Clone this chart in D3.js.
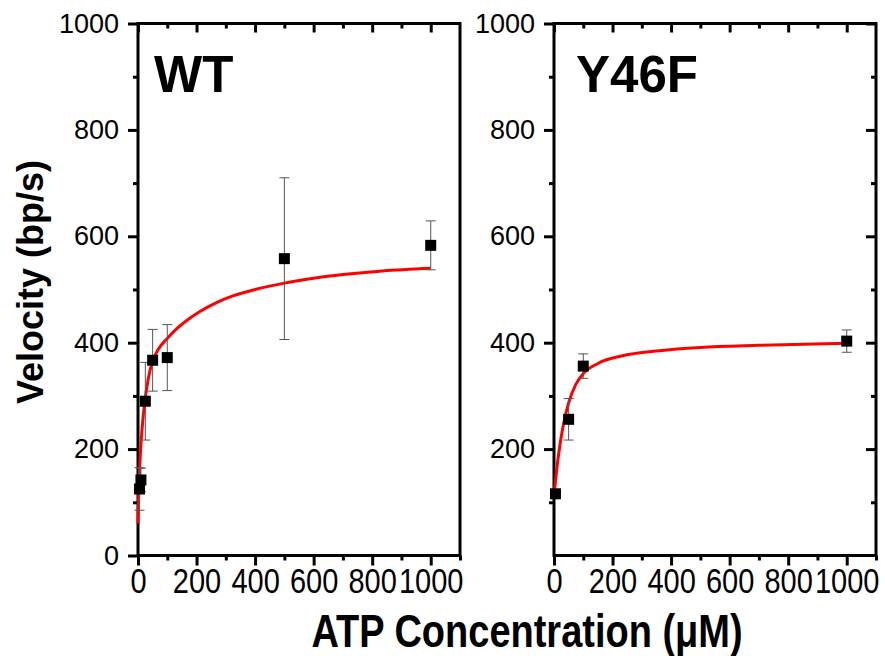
<!DOCTYPE html>
<html>
<head>
<meta charset="utf-8">
<script src="https://cdn.jsdelivr.net/npm/d3@7/dist/d3.min.js"></script>
<style>
  html, body { margin: 0; padding: 0; background: #fff; }
  svg { display: block; font-family: "Liberation Sans", Arial, sans-serif; }
  .axis path, .axis line { stroke: #000; stroke-width: 3; }
  .axis text { font-family: "Liberation Sans", Arial, sans-serif; font-size: 27px; fill: #000; }
</style>
</head>
<body>
<svg id="chart" width="885" height="656"></svg>
<script>
// ticks
const xTickVals = [0, 200, 400, 600, 800, 1000];
const xMinorVals = [100, 300, 500, 700, 900, 1100];
const yTickWT = [0, 200, 400, 600, 800, 1000];
const yTickY46F = [200, 400, 600, 800, 1000];
const yMinorVals = [100, 300, 500, 700, 900];

// WT data (ATP uM, velocity bp/s, error)
const wtConc = [5, 10, 25, 50, 100, 500, 1000];
const wtVel = [125, 142, 290, 367, 372, 558, 583];
const wtErr = [40, 22, 73, 58, 62, 152, 46];
// WT fitted curve
const wtFitConc = [0, 3, 8, 15, 23, 35, 48, 70, 100, 130, 170, 210, 270, 324, 400, 500, 600, 700, 835, 1000];
const wtFitVel = [60, 125, 190, 245, 288, 332, 362, 388, 408, 425, 443, 458, 476, 488, 500, 512, 521, 528, 535, 540];

// Y46F data
const mutConc = [5, 50, 100, 1000];
const mutVel = [116, 256, 356, 403];
const mutErr = [4, 39, 23, 21];
const mutFitConc = [0, 5, 10, 17, 25, 34, 50, 75, 100, 150, 230, 360, 500, 700, 1000];
const mutFitVel = [111, 140, 165, 195, 224, 251, 287, 322, 342, 361, 375, 385, 391, 395, 399];

const svg = d3.select('#chart');
const TOP = 23.5, BOTTOM = 555.5;

function drawPanel(opt) {
  const x = d3.scaleLinear().domain([0, 1100]).range([opt.x0, opt.x1]);
  const y = d3.scaleLinear().domain([0, 1000]).range([BOTTOM, TOP]);
  const g = svg.append('g');

  // frame
  g.append('rect').attr('x', opt.x0).attr('y', TOP)
    .attr('width', opt.x1 - opt.x0).attr('height', BOTTOM - TOP)
    .attr('fill', 'none').attr('stroke', '#000').attr('stroke-width', 3);

  // bottom axis (outward), major + minor
  const bx = g.append('g').attr('class', 'axis').attr('transform', `translate(0,${BOTTOM})`)
    .call(d3.axisBottom(x).tickValues(xTickVals).tickSize(10).tickSizeOuter(0).tickFormat(d3.format('d')));
  bx.select('.domain').remove();
  bx.selectAll('text')
    .attr('y', 10.5).attr('dy', '0.71em')
    .style('font-size', '29px')
    .attr('transform', 'scale(1,1.21)');
  g.append('g').attr('class', 'axis').attr('transform', `translate(0,${BOTTOM})`)
    .call(d3.axisBottom(x).tickValues(xMinorVals).tickSize(5).tickFormat(''))
    .select('.domain').remove();

  // top ticks (inward)
  g.append('g').attr('class', 'axis').attr('transform', `translate(0,${TOP})`)
    .call(d3.axisBottom(x).tickValues(xTickVals).tickSize(9).tickFormat(''))
    .select('.domain').remove();
  g.append('g').attr('class', 'axis').attr('transform', `translate(0,${TOP})`)
    .call(d3.axisBottom(x).tickValues(xMinorVals.slice(0, 5)).tickSize(5).tickFormat(''))
    .select('.domain').remove();

  // left axis (outward)
  const ly = g.append('g').attr('class', 'axis').attr('transform', `translate(${opt.x0},0)`)
    .call(d3.axisLeft(y).tickValues(opt.yTicks).tickSize(10).tickPadding(9).tickFormat(d3.format('d')));
  ly.select('.domain').remove();
  g.append('g').attr('class', 'axis').attr('transform', `translate(${opt.x0},0)`)
    .call(d3.axisLeft(y).tickValues(yMinorVals).tickSize(5).tickFormat(''))
    .select('.domain').remove();

  if (opt.rightTicks) {
    g.append('g').attr('class', 'axis').attr('transform', `translate(${opt.x1},0)`)
      .call(d3.axisRight(y).tickValues(opt.yTicks).tickSize(-10).tickFormat(''))
      .select('.domain').remove();
    g.append('g').attr('class', 'axis').attr('transform', `translate(${opt.x1},0)`)
      .call(d3.axisRight(y).tickValues(yMinorVals).tickSize(-5).tickFormat(''))
      .select('.domain').remove();
  }

  // fit curve
  const fit = d3.zip(opt.fitX, opt.fitY);
  g.append('path').datum(fit)
    .attr('fill', 'none').attr('stroke', '#ff0000').attr('stroke-width', 3)
    .attr('d', d3.line().x(d => x(d[0])).y(d => y(d[1])).curve(d3.curveMonotoneX));

  // error bars
  const pts = opt.conc.map((c, i) => ({ c, v: opt.vel[i], e: opt.err[i] }));
  const eb = g.append('g').attr('stroke', '#555').attr('stroke-width', 1);
  pts.forEach(p => {
    const cx = x(p.c);
    eb.append('line').attr('x1', cx).attr('x2', cx).attr('y1', y(p.v - p.e)).attr('y2', y(p.v + p.e));
    [p.v - p.e, p.v + p.e].forEach(v => {
      eb.append('line').attr('x1', cx - 5).attr('x2', cx + 5).attr('y1', y(v)).attr('y2', y(v));
    });
  });

  // squares
  g.selectAll('rect.pt').data(pts).join('rect').attr('class', 'pt')
    .attr('x', d => x(d.c) - 5.5).attr('y', d => y(d.v) - 5.5)
    .attr('width', 11).attr('height', 11).attr('fill', '#000');

  // panel label
  g.append('text').attr('x', opt.labelX).attr('y', 92)
    .attr('font-size', 51).attr('font-weight', 'bold').text(opt.label);
}

drawPanel({
  x0: 138, x1: 460, yTicks: yTickWT, rightTicks: false,
  conc: wtConc, vel: wtVel, err: wtErr, fitX: wtFitConc, fitY: wtFitVel,
  label: 'WT', labelX: 154
});
drawPanel({
  x0: 554, x1: 876, yTicks: yTickY46F, rightTicks: true,
  conc: mutConc, vel: mutVel, err: mutErr, fitX: mutFitConc, fitY: mutFitVel,
  label: 'Y46F', labelX: 576
});

// axis titles
svg.append('text')
  .attr('transform', 'translate(43,282) rotate(-90)')
  .attr('text-anchor', 'middle').attr('font-size', 36).attr('font-weight', 'bold')
  .text('Velocity (bp/s)');
svg.append('text')
  .attr('transform', 'translate(527,647) scale(1,1.22)')
  .attr('text-anchor', 'middle').attr('font-size', 38).attr('font-weight', 'bold')
  .text('ATP Concentration (\u03bcM)');
</script>
</body>
</html>
